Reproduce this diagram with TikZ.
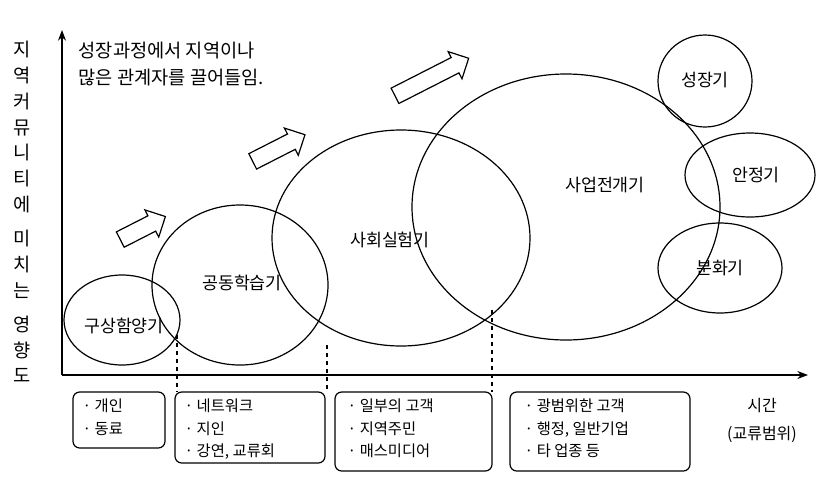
\documentclass[tikz,border=0pt]{standalone}
\usepackage{fontspec}
\newfontfamily\kr{Noto Sans CJK KR}
\usetikzlibrary{shapes.arrows,arrows.meta}
\begin{document}
\begin{tikzpicture}[x=0.75pt,y=-0.75pt,font=\kr\fontsize{13}{15}\selectfont,
  el/.style={draw,line width=0.9pt},
  bx/.style={draw,rounded corners=5pt,line width=0.9pt},
  barrow/.style={draw,single arrow,single arrow head extend=5pt,minimum height=#1,inner xsep=0pt,inner ysep=6pt,rotate=27,line width=0.9pt},
  dsh/.style={dashed,line width=0.8pt},
  it/.style={align=left,anchor=north west,font=\kr\fontsize{11.5}{17}\selectfont}]
\useasboundingbox (0,0) rectangle (817,490);
% axes
\coordinate (o) at (62,375);
\coordinate (ytop) at (62,30);
\coordinate (xend) at (808,375);
\draw[line width=0.9pt,-{Stealth[length=8pt]}] (o) -- (ytop);
\draw[line width=0.9pt,-{Stealth[length=8pt]}] (o) -- (xend);
\node[align=center,font=\kr\fontsize{14}{19.4}\selectfont] (ylab) at (22,212) {지\\역\\커\\뮤\\니\\티\\에\\[6pt]미\\치\\는\\[6pt]영\\향\\도};
\node[align=left,anchor=west,font=\kr\fontsize{14}{20}\selectfont] (top) at (74,64) {성장과정에서 지역이나\\많은 관계자를 끌어들임.};
% ellipses
\draw[el] (122,320) ellipse [x radius=58,y radius=45];
\draw[el] (240,285) ellipse [x radius=88,y radius=80];
\draw[el] (401,238) ellipse [x radius=129,y radius=108];
\draw[el] (566,207) ellipse [x radius=154,y radius=133];
\draw[el] (705,81) ellipse [x radius=47,y radius=46];
\draw[el] (750,175) ellipse [x radius=65,y radius=42];
\draw[el] (720,268) ellipse [x radius=62,y radius=45];
\node (a) at (124,326) {구상함양기};
\node (b) at (242,283) {공동학습기};
\node (c) at (390,240) {사회실험기};
\node (d) at (605,185) {사업전개기};
\node (e) at (705,80) {성장기};
\node (f) at (756,175) {안정기};
\node (g) at (720,268) {분화기};
% block arrows
\node[barrow=38pt] (ar1) at (139,230) {};
\node[barrow=44pt] (ar2) at (275,150) {};
\node[barrow=62pt] (ar3) at (428,79) {};
% dashed
\draw[dsh] (177,335) -- (177,392);
\draw[dsh] (327,345) -- (327,392);
\draw[dsh] (492,310) -- (492,392);
% boxes
\draw[bx] (73,392) rectangle (165,448);
\draw[bx] (175,392) rectangle (325,463);
\draw[bx] (335,392) rectangle (492,471);
\draw[bx] (510,392) rectangle (690,471);
\node[it] (t1) at (78,394) {· 개인\\· 동료};
\node[it] (t2) at (180,394) {· 네트워크\\· 지인\\· 강연, 교류회};
\node[it] (t3) at (343,394) {· 일부의 고객\\· 지역주민\\· 매스미디어};
\node[it] (t4) at (520,394) {· 광범위한 고객\\· 행정, 일반기업\\· 타 업종 등};
\node[align=center,font=\kr\fontsize{12}{21}\selectfont] (tm) at (762,420) {시간\\(교류범위)};
\end{tikzpicture}
\end{document}
